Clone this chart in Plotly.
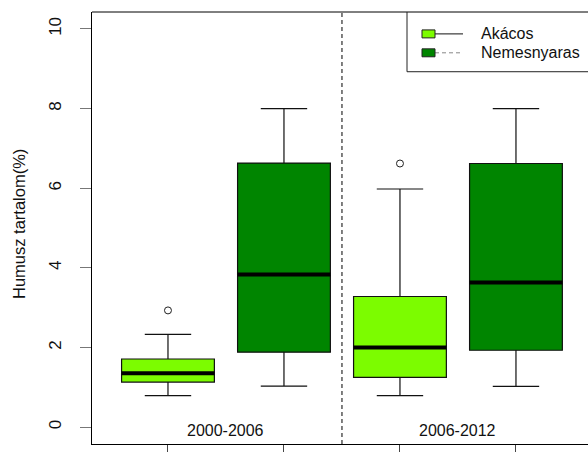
import plotly.graph_objects as go

# Humus content (%) by stand type and sampling period
periods = ["2000-2006", "2006-2012"]
species = ["Akácos", "Nemesnyaras"]

akacos_lower = [0.79, 0.79]
akacos_q1 = [1.13, 1.25]
akacos_median = [1.35, 2.00]
akacos_q3 = [1.71, 3.28]
akacos_upper = [2.33, 5.98]
akacos_outliers = [[2.93], [6.62]]

nemes_lower = [1.03, 1.02]
nemes_q1 = [1.88, 1.93]
nemes_median = [3.83, 3.63]
nemes_q3 = [6.63, 6.62]
nemes_upper = [8.00, 8.00]
nemes_outliers = [[], []]

y_ticks = [0, 2, 4, 6, 8, 10]
y_title = "Humusz tartalom(%)"

fills = ["#7CFC00", "#008500"]
FONT = "Liberation Sans, Arial, sans-serif"
W, H = 588, 452
ML, MT, MB, MR = 92, 12, 6, 0
PW, PH = W - ML - MR, H - MT - MB
BOX_W = 0.8


def px(xp):
    return (xp - ML) / PW


def py(yp):
    return (H - MB - yp) / PH


series = [
    dict(lower=akacos_lower, q1=akacos_q1, median=akacos_median, q3=akacos_q3,
         upper=akacos_upper, outliers=akacos_outliers),
    dict(lower=nemes_lower, q1=nemes_q1, median=nemes_median, q3=nemes_q3,
         upper=nemes_upper, outliers=nemes_outliers),
]

fig = go.Figure()

for si, s in enumerate(series):
    pos = [pi * 2 + si + 1 for pi in range(len(periods))]
    fig.add_trace(go.Box(
        x=pos, q1=s["q1"], median=s["median"], q3=s["q3"],
        lowerfence=s["lower"], upperfence=s["upper"],
        width=BOX_W, whiskerwidth=0.5, fillcolor=fills[si],
        line=dict(color="#111111", width=1.2), boxpoints=False,
        name=species[si], showlegend=False, hoverinfo="skip",
    ))
    # thick median bars
    for p, m in zip(pos, s["median"]):
        fig.add_trace(go.Scatter(
            x=[p - BOX_W / 2, p + BOX_W / 2], y=[m, m], mode="lines",
            line=dict(color="black", width=4), showlegend=False, hoverinfo="skip",
        ))
    # outlying points
    ox, oy = [], []
    for p, outs in zip(pos, s["outliers"]):
        ox += [p] * len(outs)
        oy += outs
    if ox:
        fig.add_trace(go.Scatter(
            x=ox, y=oy, mode="markers",
            marker=dict(symbol="circle-open", size=7, color="#222222", line=dict(width=1)),
            showlegend=False, hoverinfo="skip",
        ))

shapes = []
# separator between periods
shapes.append(dict(type="line", xref="x", yref="paper", x0=2.5, x1=2.5, y0=0, y1=1,
                   line=dict(color="black", width=1, dash="4px,3px")))
# top frame line
shapes.append(dict(type="line", xref="paper", yref="paper", x0=0, x1=1, y0=1, y1=1,
                   line=dict(color="black", width=1)))

# legend box
lx0, ly0, ly1 = 407, 12, 72
shapes.append(dict(type="line", xref="paper", yref="paper", x0=px(lx0), x1=px(lx0),
                   y0=py(ly0), y1=py(ly1), line=dict(color="#222222", width=1)))
shapes.append(dict(type="line", xref="paper", yref="paper", x0=px(lx0), x1=1,
                   y0=py(ly1), y1=py(ly1), line=dict(color="#222222", width=1)))
legend_rows = [34, 53]
legend_lines = [dict(color="#111111", width=1), dict(color="#888888", width=1, dash="4px,3px")]
annotations = []
for i, yr in enumerate(legend_rows):
    shapes.append(dict(type="line", xref="paper", yref="paper", x0=px(435), x1=px(463),
                       y0=py(yr), y1=py(yr), line=legend_lines[i]))
    shapes.append(dict(type="rect", xref="paper", yref="paper", x0=px(422), x1=px(435),
                       y0=py(yr - 4), y1=py(yr + 4), fillcolor=fills[i],
                       line=dict(color="#222222", width=1)))
    annotations.append(dict(text=species[i], xref="paper", yref="paper", x=px(479),
                            y=py(yr), xanchor="left", yanchor="middle", showarrow=False,
                            font=dict(family=FONT, size=16, color="#111111")))

# period labels inside the plot
for pi, lab in enumerate(periods):
    annotations.append(dict(text=lab, xref="x", yref="y", x=pi * 2 + 1.5, y=-0.08,
                            xanchor="center", yanchor="middle", showarrow=False,
                            font=dict(family=FONT, size=16, color="#111111")))

# y axis title
annotations.append(dict(text=y_title, xref="paper", yref="paper", x=px(19), y=py(225),
                        xanchor="center", yanchor="middle", textangle=-90, showarrow=False,
                        font=dict(family=FONT, size=16.5, color="#111111")))

fig.update_layout(
    width=W, height=H,
    margin=dict(l=ML, r=MR, t=MT, b=MB),
    paper_bgcolor="white", plot_bgcolor="white",
    boxmode="overlay",
    shapes=shapes, annotations=annotations,
    font=dict(family=FONT, size=16, color="#111111"),
    xaxis=dict(range=[0.345, 4.621], tickvals=[1, 2, 3, 4], showticklabels=False,
               ticks="outside", ticklen=8, tickcolor="#444444", showgrid=False,
               zeroline=False, showline=True, linecolor="black", linewidth=1),
    yaxis=dict(range=[-0.425, 10.425], tickvals=y_ticks, ticktext=[str(t) for t in y_ticks],
               tickangle=-90, ticks="outside", ticklen=11, tickcolor="#777777",
               ticklabelstandoff=12,
               tickfont=dict(family=FONT, size=17, color="#111111"),
               showgrid=False, zeroline=False, showline=True, linecolor="black", linewidth=1),
)

fig.write_html("out.html")
